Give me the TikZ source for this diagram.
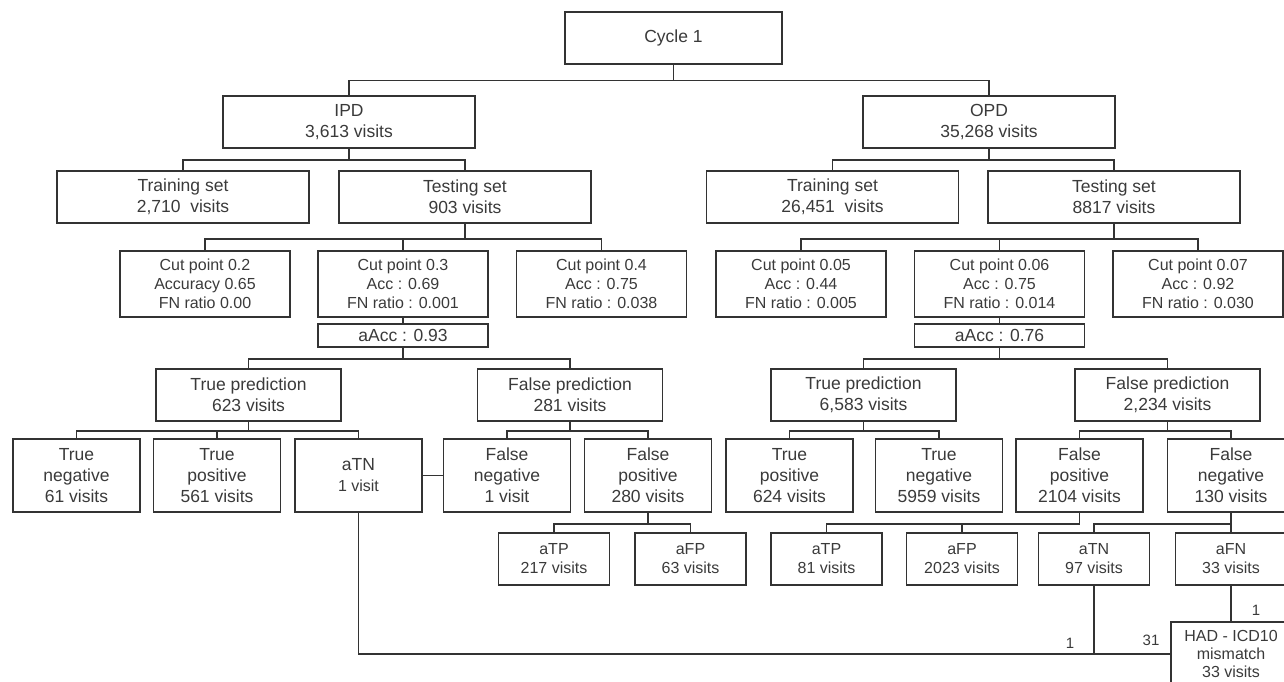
\documentclass[tikz,border=0pt]{standalone}
\usepackage{fontspec}
\setmainfont{Liberation Sans}
\usepackage{tikz}
\usetikzlibrary{positioning, calc}
\definecolor{lineGray}{HTML}{333333}
\definecolor{textGray}{HTML}{3A3A3A}

\begin{document}
\begin{tikzpicture}[x=1pt, y=-1pt,
    cbox/.style={rectangle, draw=lineGray, line width=1.5pt, inner sep=0pt, align=center, text=textGray,
      font=\fontsize{17.5}{21}\selectfont},
    topbox/.style={cbox, minimum width=217pt, minimum height=52pt},
    setbox/.style={cbox, minimum width=252pt, minimum height=52pt},
    cutbox/.style={cbox, minimum width=170pt, minimum height=66pt, font=\fontsize{16}{19}\selectfont},
    accbox/.style={cbox, minimum width=170pt, minimum height=23pt},
    predbox/.style={cbox, minimum width=185pt, minimum height=52pt},
    leafbox/.style={cbox, minimum width=127pt, minimum height=73pt},
    subbox/.style={cbox, minimum width=111pt, minimum height=52pt, font=\fontsize{16}{19}\selectfont},
    link/.style={draw=lineGray, line width=1.5pt},
    cnt/.style={font=\fontsize{15}{18}\selectfont, text=textGray, inner sep=0pt}
  ]
  \useasboundingbox (0,0) rectangle (1284,682);

  \node[topbox] (cycle) at (673.5,38) {Cycle 1};
  \node[setbox] (ipd) at (349,122) {IPD\\3,613 visits};
  \node[setbox] (opd) at (989,122) {OPD\\35,268 visits};

  \node[setbox] (train1) at (183,197) {Training set\\2,710\ \ visits};
  \node[setbox] (test1) at (465,197) {Testing set\\903 visits};
  \node[setbox] (train2) at (832.5,197) {Training set\\26,451\ \ visits};
  \node[setbox] (test2) at (1114,197) {Testing set\\8817 visits};

  \node[cutbox] (cut02) at (205,284) {Cut point 0.2\\Accuracy 0.65\\FN ratio 0.00};
  \node[cutbox] (cut03) at (403,284) {Cut point 0.3\\Acc : 0.69\\FN ratio : 0.001};
  \node[cutbox] (cut04) at (601.5,284) {Cut point 0.4\\Acc : 0.75\\FN ratio : 0.038};
  \node[cutbox] (cut005) at (801,284) {Cut point 0.05\\Acc : 0.44\\FN ratio : 0.005};
  \node[cutbox] (cut006) at (999.5,284) {Cut point 0.06\\Acc : 0.75\\FN ratio : 0.014};
  \node[cutbox] (cut007) at (1198,284) {Cut point 0.07\\Acc : 0.92\\FN ratio : 0.030};

  \node[accbox] (aacc1) at (403,335.5) {aAcc : 0.93};
  \node[accbox] (aacc2) at (999.5,335.5) {aAcc : 0.76};

  \node[predbox] (truep1) at (248.5,395) {True prediction\\623 visits};
  \node[predbox] (falsep1) at (570,395) {False prediction\\281 visits};
  \node[predbox] (truep2) at (863.5,395) {True prediction\\6,583 visits};
  \node[predbox] (falsep2) at (1167.5,395) {False prediction\\2,234 visits};

  \node[leafbox] (tn1) at (76.5,475.5) {True\\negative\\61 visits};
  \node[leafbox] (tp1) at (217,475.5) {True\\positive\\561 visits};
  \node[leafbox] (atn1) at (358.5,475.5) {aTN\\{\fontsize{16}{19}\selectfont 1 visit}};
  \node[leafbox] (fn1) at (507,475.5) {False\\negative\\1 visit};
  \node[leafbox] (fp1) at (648,475.5) {False\\positive\\280 visits};
  \node[leafbox] (tp2) at (789.5,475.5) {True\\positive\\624 visits};
  \node[leafbox] (tn2) at (939,475.5) {True\\negative\\5959 visits};
  \node[leafbox] (fp2) at (1079.5,475.5) {False\\positive\\2104 visits};
  \node[leafbox] (fn2) at (1231,475.5) {False\\negative\\130 visits};

  \node[subbox] (atp1) at (554,559) {aTP\\217 visits};
  \node[subbox] (afp1) at (690.5,559) {aFP\\63 visits};
  \node[subbox] (atp2) at (826.5,559) {aTP\\81 visits};
  \node[subbox] (afp2) at (962,559) {aFP\\2023 visits};
  \node[subbox] (atn2) at (1094,559) {aTN\\97 visits};
  \node[subbox] (afn2) at (1231,559) {aFN\\33 visits};

  \node[cbox, minimum width=120pt, minimum height=64pt, font=\fontsize{16}{18}\selectfont] (had) at (1231,654)
    {HAD - ICD10\\mismatch\\33 visits};

  \draw[link] (cycle.south) -- ++(0,16) -| (ipd.north);
  \draw[link] (cycle.south) -- ++(0,16) -| (opd.north);
  \draw[link] (ipd.south) -- ++(0,11) -| (train1.north);
  \draw[link] (ipd.south) -- ++(0,11) -| (test1.north);
  \draw[link] (opd.south) -- ++(0,11) -| (train2.north);
  \draw[link] (opd.south) -- ++(0,11) -| (test2.north);

  \draw[link] (test1.south) -- ++(0,15) -| (cut02.north);
  \draw[link] (test1.south) -- ++(0,15) -| (cut03.north);
  \draw[link] (test1.south) -- ++(0,15) -| (cut04.north);
  \draw[link] (test2.south) -- ++(0,15) -| (cut005.north);
  \draw[link] (test2.south) -- ++(0,15) -| (cut006.north);
  \draw[link] (test2.south) -- ++(0,15) -| (cut007.north);

  \draw[link] (cut03.south) -- (aacc1.north);
  \draw[link] (cut006.south) -- (aacc2.north);

  \draw[link] (aacc1.south) -- ++(0,11) -| (truep1.north);
  \draw[link] (aacc1.south) -- ++(0,11) -| (falsep1.north);
  \draw[link] (aacc2.south) -- ++(0,11) -| (truep2.north);
  \draw[link] (aacc2.south) -- ++(0,11) -| (falsep2.north);

  \draw[link] (truep1.south) -- ++(0,9) -| (tn1.north);
  \draw[link] (truep1.south) -- ++(0,9) -| (tp1.north);
  \draw[link] (truep1.south) -- ++(0,9) -| (atn1.north);
  \draw[link] (falsep1.south) -- ++(0,9) -| (fn1.north);
  \draw[link] (falsep1.south) -- ++(0,9) -| (fp1.north);
  \draw[link] (truep2.south) -- ++(0,9) -| (tp2.north);
  \draw[link] (truep2.south) -- ++(0,9) -| (tn2.north);
  \draw[link] (falsep2.south) -- ++(0,9) -| (fp2.north);
  \draw[link] (falsep2.south) -- ++(0,9) -| (fn2.north);

  \draw[link] (atn1.east) -- (fn1.west);

  \draw[link] (fp1.south) -- ++(0,11) -| (atp1.north);
  \draw[link] (fp1.south) -- ++(0,11) -| (afp1.north);
  \draw[link] (fp2.south) -- ++(0,11) -| (atp2.north);
  \draw[link] (fp2.south) -- ++(0,11) -| (afp2.north);
  \draw[link] (fn2.south) -- ++(0,11) -| (atn2.north);
  \draw[link] (fn2.south) -- ++(0,11) -| (afn2.north);

  \draw[link] (atn1.south) |- (had.west);
  \draw[link] (atn2.south) -- (atn2.south |- had.west);
  \draw[link] (afn2.south) -- (had.north);

  \node[cnt] (cntA) at (1070,643) {1};
  \node[cnt] (cntB) at (1151,640) {31};
  \node[cnt] (cntC) at (1256,610) {1};
\end{tikzpicture}
\end{document}
